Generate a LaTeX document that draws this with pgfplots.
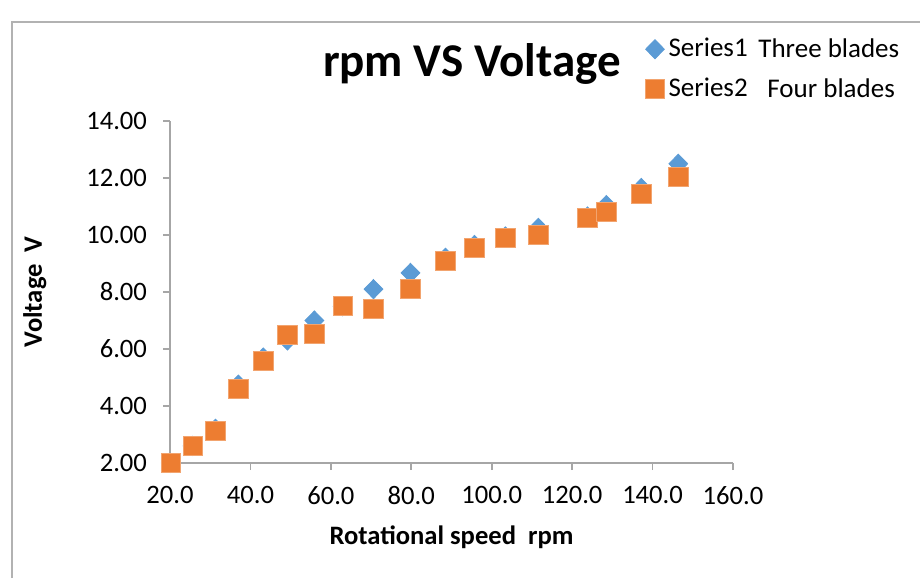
\documentclass[border=0pt]{standalone}
\usepackage{pgfplots}
\pgfplotsset{compat=1.18}
\usepackage{fontspec}
\setmainfont{Carlito}
\definecolor{sblue}{HTML}{5B9BD5}
\definecolor{sorange}{HTML}{ED7D31}
\definecolor{axgray}{HTML}{A6A6A6}
\begin{document}
\begin{tikzpicture}[x=1pt,y=1pt]
\path[use as bounding box] (0,0) rectangle (460,289);
\draw[color=black!30, line width=0.8pt] (6,0) -- (6,278) -- (460,278);
\begin{axis}[
  at={(85pt,57.5pt)}, anchor=south west,
  scale only axis, width=281.5pt, height=171pt,
  xmin=20, xmax=160, ymin=2, ymax=14,
  axis x line*=bottom, axis y line*=left,
  axis line style={axgray, line width=0.8pt, -},
  tick style={axgray, line width=0.8pt},
  tick align=outside, major tick length=3.5pt,
  xtick={20,40,...,160}, ytick={2,4,...,14},
  /pgf/number format/assume math mode=true,
  xticklabel style={yshift=-4.5pt, /pgf/number format/.cd, fixed, fixed zerofill, precision=1},
  yticklabel style={xshift=-4.5pt, /pgf/number format/.cd, fixed, fixed zerofill, precision=2},
  tick label style={font=\fontsize{13.3}{15}\selectfont},
  xlabel={Rotational speed\ \ rpm},
  ylabel={Voltage\ \ V},
  label style={font=\fontsize{13.3}{15}\selectfont\bfseries},
  xlabel style={at={(axis description cs:0.5,-0.216)}, anchor=center},
  ylabel style={at={(axis description cs:-0.24,0.5)}, anchor=center},
  legend style={draw=none, fill=none, at={(0.833,1.266)}, anchor=north west,
    font=\fontsize{13.5}{16}\selectfont, row sep=5pt},
  legend cell align=left,
  clip=false,
]
\addplot[only marks, mark=diamond*, mark size=4.8pt, mark options={xscale=1.3, fill=sblue, draw=sblue}]
coordinates {
(20.2,2.0) (25.6,2.6) (31.3,3.2) (37.0,4.75) (43.2,5.7) (49.2,6.3)
(55.9,7.0) (62.9,7.5) (70.6,8.1) (79.8,8.67) (88.5,9.2) (95.7,9.65)
(103.4,9.95) (111.6,10.25) (123.8,10.65) (128.5,11.05) (137.2,11.65) (146.4,12.5)
};
\addlegendentry{Series1}
\addplot[only marks, mark=square*, mark size=4.8pt, mark options={fill=sorange, draw=sorange!70!white}]
coordinates {
(20.2,2.0) (25.6,2.6) (31.3,3.12) (37.0,4.6) (43.2,5.58) (49.2,6.5)
(55.9,6.53) (62.9,7.5) (70.6,7.4) (79.8,8.1) (88.5,9.1) (95.7,9.55)
(103.4,9.9) (111.6,10.0) (123.8,10.6) (128.5,10.8) (137.2,11.45) (146.4,12.05)
};
\addlegendentry{Series2}
\end{axis}
\node[font=\fontsize{23.5}{28}\selectfont\bfseries] at (236,257) {rpm VS Voltage};
\node[anchor=west, font=\fontsize{13.5}{16}\selectfont, inner sep=0pt] at (379,265) {Three blades};
\node[anchor=west, font=\fontsize{13.5}{16}\selectfont, inner sep=0pt] at (383.5,245) {Four blades};
\end{tikzpicture}
\end{document}
